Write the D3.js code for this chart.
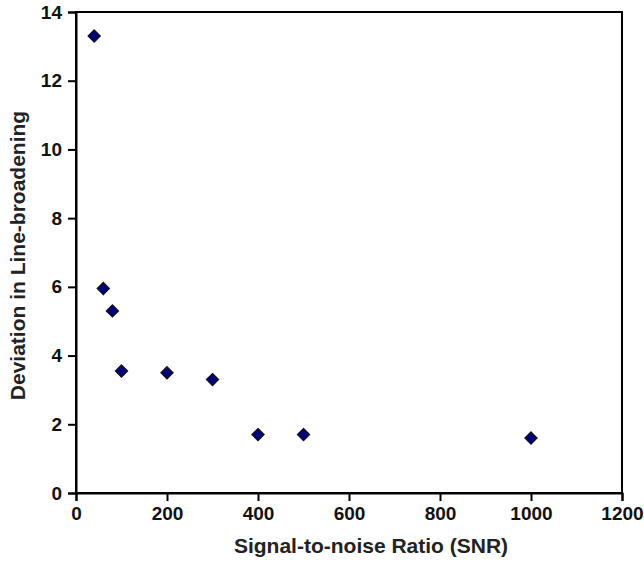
<!DOCTYPE html>
<html>
<head>
<meta charset="utf-8">
<script src="https://cdn.jsdelivr.net/npm/d3@7"></script>
<style>
  body { margin: 0; background: #fff; }
  svg text { font-family: "Liberation Sans", Arial, sans-serif; font-weight: bold; }
</style>
</head>
<body>
<div id="chart"></div>
<script>
// SNR vs deviation values
const snr = [40, 60, 80, 100, 200, 300, 400, 500, 1000];
const deviation = [13.3, 5.95, 5.3, 3.55, 3.5, 3.3, 1.7, 1.7, 1.6];
const xTicks = [0, 200, 400, 600, 800, 1000, 1200];
const yTicks = [0, 2, 4, 6, 8, 10, 12, 14];

const width = 644;
const height = 566;
const margin = { top: 12, right: 22, bottom: 73, left: 76 };

const svg = d3.select('#chart')
    .append('svg')
    .attr('width', width)
    .attr('height', height);

const x = d3.scaleLinear().domain([0, 1200]).range([margin.left, width - margin.right]);
const y = d3.scaleLinear().domain([0, 14]).range([height - margin.bottom, margin.top]);

// frame
svg.append('rect')
    .attr('x', x(0))
    .attr('y', y(14))
    .attr('width', x(1200) - x(0))
    .attr('height', y(0) - y(14))
    .attr('fill', 'none')
    .attr('stroke', '#000')
    .attr('stroke-width', 2);

const xAxis = svg.append('g')
    .attr('transform', `translate(0,${y(0)})`)
    .call(d3.axisBottom(x).tickValues(xTicks).tickFormat(d3.format('d')).tickSize(8).tickPadding(6));

const yAxis = svg.append('g')
    .attr('transform', `translate(${x(0)},0)`)
    .call(d3.axisLeft(y).tickValues(yTicks).tickFormat(d3.format('d')).tickSize(8).tickPadding(6));

[xAxis, yAxis].forEach(g => {
    g.select('.domain').attr('stroke-width', 2);
    g.selectAll('.tick line').attr('stroke-width', 2);
    g.selectAll('.tick text')
        .attr('font-size', 19)
        .attr('fill', '#111')
        .style('font-family', '"Liberation Sans", Arial, sans-serif');
});

svg.append('text')
    .attr('x', (x(0) + x(1200)) / 2 + 22)
    .attr('y', 553)
    .attr('text-anchor', 'middle')
    .attr('font-size', 21)
    .attr('fill', '#222')
    .text('Signal-to-noise Ratio (SNR)');

svg.append('text')
    .attr('transform', `translate(25,${(y(0) + y(14)) / 2 + 3}) rotate(-90)`)
    .attr('text-anchor', 'middle')
    .attr('font-size', 21)
    .attr('fill', '#222')
    .text('Deviation in Line-broadening');

const diamond = d3.symbol().type(d3.symbolDiamond2).size(95);

svg.selectAll('path.pt')
    .data(snr)
    .enter()
    .append('path')
    .attr('class', 'pt')
    .attr('transform', (d, i) => `translate(${x(d)},${y(deviation[i])})`)
    .attr('d', diamond)
    .attr('fill', '#00007a')
    .attr('stroke', '#111')
    .attr('stroke-width', 1.2);
</script>
</body>
</html>
